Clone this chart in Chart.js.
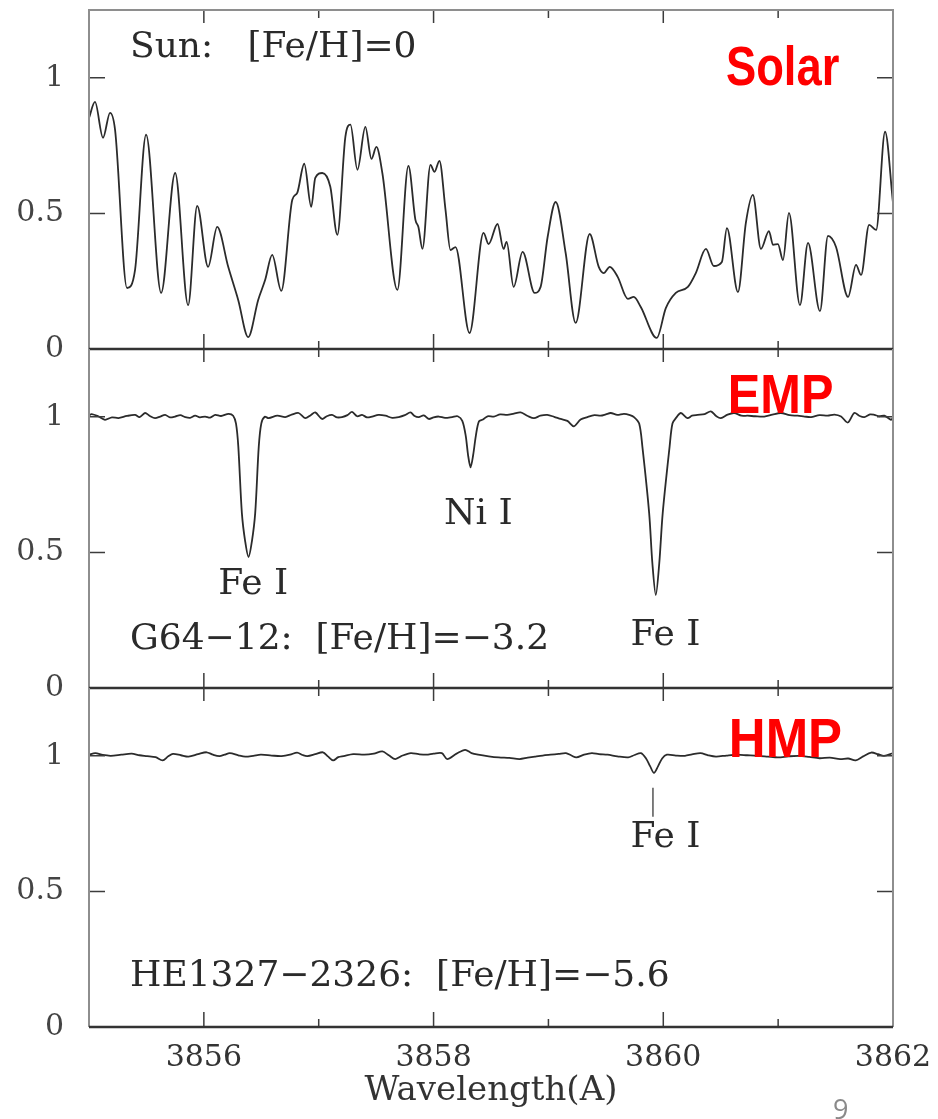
<!DOCTYPE html>
<html>
<head>
<meta charset="utf-8">
<title>Fe I lines at three metallicities</title>
<script src="https://cdn.jsdelivr.net/npm/chart.js@4.4.0/dist/chart.umd.min.js"></script>
<style>
    html, body { margin: 0; padding: 0; background: #fff; }
    #wrap { position: relative; width: 938px; height: 1119px; overflow: hidden; }
    #wrap canvas { position: absolute; left: 0; top: 0; }
    #pageNo { position: absolute; left: 833px; top: 1090px; font: 27px "Open Sans", sans-serif; color: #8a8a8a; }
</style>
</head>
<body>
<div id="wrap">
    <canvas id="solarChart" width="938" height="1119"></canvas>
    <canvas id="empChart" width="938" height="1119"></canvas>
    <canvas id="hmpChart" width="938" height="1119"></canvas>
    <div id="pageNo">9</div>
</div>
<script>
// Axis setup
const waveMin = 3855;
const waveMax = 3862;
const labelWave = [3856, 3858, 3860, 3862];
const minorWave = [3857, 3859, 3861];
const fluxTicks = [0, 0.5, 1];

// Sun: [wavelength, normalised flux]
const solarSpectrum = [
    [3855.000, 0.852], [3855.052, 0.911], [3855.122, 0.779], [3855.183, 0.871], [3855.227, 0.808],
    [3855.331, 0.225], [3855.401, 0.292], [3855.497, 0.790], [3855.628, 0.207], [3855.750, 0.649],
    [3855.863, 0.162], [3855.942, 0.528], [3856.037, 0.303], [3856.116, 0.450], [3856.212, 0.303],
    [3856.299, 0.181], [3856.386, 0.044], [3856.473, 0.181], [3856.534, 0.255], [3856.595, 0.347],
    [3856.674, 0.214], [3856.770, 0.550], [3856.813, 0.576], [3856.874, 0.683], [3856.935, 0.524],
    [3856.970, 0.631], [3857.031, 0.649], [3857.101, 0.598], [3857.162, 0.421], [3857.232, 0.782],
    [3857.276, 0.827], [3857.337, 0.661], [3857.406, 0.819], [3857.459, 0.701], [3857.502, 0.745],
    [3857.554, 0.649], [3857.685, 0.218], [3857.781, 0.675], [3857.842, 0.476], [3857.868, 0.450],
    [3857.903, 0.369], [3857.973, 0.679], [3858.008, 0.653], [3858.051, 0.694], [3858.104, 0.513],
    [3858.147, 0.365], [3858.191, 0.376], [3858.313, 0.059], [3858.435, 0.428], [3858.479, 0.387],
    [3858.557, 0.461], [3858.609, 0.369], [3858.636, 0.395], [3858.697, 0.229], [3858.775, 0.358],
    [3858.880, 0.207], [3858.932, 0.229], [3858.993, 0.413], [3859.063, 0.542], [3859.150, 0.354],
    [3859.237, 0.096], [3859.359, 0.424], [3859.438, 0.303], [3859.481, 0.280], [3859.534, 0.303],
    [3859.603, 0.266], [3859.691, 0.185], [3859.743, 0.192], [3859.804, 0.155], [3859.943, 0.041],
    [3860.022, 0.151], [3860.109, 0.207], [3860.214, 0.229], [3860.283, 0.280], [3860.371, 0.369],
    [3860.440, 0.306], [3860.510, 0.321], [3860.554, 0.446], [3860.650, 0.210], [3860.719, 0.465],
    [3860.780, 0.568], [3860.850, 0.369], [3860.920, 0.435], [3860.955, 0.384], [3860.998, 0.387],
    [3861.042, 0.328], [3861.094, 0.502], [3861.190, 0.162], [3861.260, 0.391], [3861.364, 0.140],
    [3861.434, 0.417], [3861.504, 0.376], [3861.609, 0.192], [3861.678, 0.310], [3861.722, 0.273],
    [3861.792, 0.458], [3861.853, 0.439], [3861.931, 0.801], [3862.000, 0.539]
];

// G64-12 (EMP)
const empSpectrum = [
    [3855.000, 1.005], [3855.023, 1.010], [3855.080, 1.002], [3855.139, 0.989], [3855.200, 0.998],
    [3855.256, 0.995], [3855.330, 1.003], [3855.401, 1.007], [3855.440, 0.999], [3855.488, 1.014],
    [3855.530, 1.003], [3855.575, 0.995], [3855.620, 1.001], [3855.663, 1.007], [3855.705, 0.998],
    [3855.750, 1.001], [3855.795, 1.006], [3855.837, 0.999], [3855.880, 0.996], [3855.924, 1.004],
    [3855.965, 0.998], [3856.011, 1.001], [3856.055, 0.997], [3856.099, 1.007], [3856.150, 1.003],
    [3856.215, 1.011], [3856.255, 1.004], [3856.280, 0.975], [3856.300, 0.890], [3856.331, 0.645],
    [3856.360, 0.540], [3856.389, 0.483], [3856.418, 0.540], [3856.447, 0.645], [3856.478, 0.890],
    [3856.500, 0.975], [3856.530, 1.000], [3856.564, 0.995], [3856.640, 1.004], [3856.709, 0.999],
    [3856.765, 1.008], [3856.825, 1.014], [3856.883, 0.995], [3856.930, 1.006], [3856.970, 1.016],
    [3857.029, 0.992], [3857.070, 1.002], [3857.116, 1.007], [3857.160, 0.998], [3857.203, 0.999],
    [3857.250, 1.006], [3857.290, 1.018], [3857.335, 1.002], [3857.377, 1.007], [3857.420, 0.998],
    [3857.465, 1.001], [3857.520, 1.007], [3857.581, 1.004], [3857.640, 0.996], [3857.697, 0.999],
    [3857.750, 1.006], [3857.799, 1.016], [3857.835, 1.003], [3857.871, 0.999], [3857.915, 1.005],
    [3857.958, 0.992], [3858.000, 0.998], [3858.045, 1.001], [3858.100, 0.996], [3858.162, 0.999],
    [3858.210, 1.002], [3858.250, 0.985], [3858.280, 0.930], [3858.300, 0.860], [3858.322, 0.814],
    [3858.345, 0.860], [3858.368, 0.930], [3858.395, 0.983], [3858.430, 0.990], [3858.470, 1.002],
    [3858.525, 1.001], [3858.580, 1.009], [3858.642, 1.007], [3858.700, 1.012], [3858.758, 1.016],
    [3858.820, 1.003], [3858.874, 0.995], [3858.930, 1.004], [3858.990, 1.007], [3859.050, 1.000],
    [3859.106, 0.992], [3859.165, 0.985], [3859.222, 0.965], [3859.280, 0.990], [3859.339, 0.999],
    [3859.400, 1.006], [3859.455, 1.004], [3859.500, 1.009], [3859.542, 1.014], [3859.600, 1.007],
    [3859.658, 1.011], [3859.710, 1.006], [3859.745, 0.999], [3859.790, 0.975], [3859.818, 0.890],
    [3859.877, 0.645], [3859.905, 0.460], [3859.935, 0.343], [3859.965, 0.460], [3859.995, 0.645],
    [3860.055, 0.890], [3860.080, 0.975], [3860.115, 0.998], [3860.153, 1.014], [3860.211, 0.995],
    [3860.250, 1.004], [3860.298, 1.007], [3860.360, 1.010], [3860.414, 1.020], [3860.460, 1.003],
    [3860.501, 0.995], [3860.560, 1.008], [3860.617, 1.014], [3860.680, 1.004], [3860.734, 1.004],
    [3860.800, 1.002], [3860.879, 1.001], [3860.950, 1.008], [3861.024, 1.014], [3861.100, 1.006],
    [3861.170, 1.004], [3861.230, 1.001], [3861.286, 0.999], [3861.360, 1.006], [3861.431, 1.004],
    [3861.490, 1.008], [3861.548, 1.001], [3861.606, 0.979], [3861.663, 1.014], [3861.710, 1.003],
    [3861.750, 0.999], [3861.800, 1.009], [3861.838, 1.007], [3861.880, 1.002], [3861.925, 1.004],
    [3861.983, 0.989], [3862.000, 0.996]
];

// HE1327-2326 (HMP)
const hmpSpectrum = [
    [3855.000, 1.004], [3855.055, 1.010], [3855.120, 1.003], [3855.190, 1.000], [3855.280, 1.004],
    [3855.371, 1.008], [3855.440, 1.002], [3855.506, 0.999], [3855.580, 0.995], [3855.641, 0.983],
    [3855.690, 0.998], [3855.731, 1.007], [3855.800, 1.002], [3855.866, 0.997], [3855.950, 1.006],
    [3856.024, 1.013], [3856.080, 1.004], [3856.136, 0.999], [3856.180, 1.004], [3856.226, 1.010],
    [3856.300, 1.002], [3856.361, 0.997], [3856.430, 1.000], [3856.496, 1.004], [3856.590, 1.001],
    [3856.677, 0.999], [3856.750, 1.004], [3856.812, 1.012], [3856.860, 1.003], [3856.901, 0.999],
    [3856.970, 1.006], [3857.037, 1.013], [3857.080, 0.998], [3857.126, 0.983], [3857.170, 0.995],
    [3857.217, 0.999], [3857.300, 1.006], [3857.397, 1.004], [3857.480, 1.008], [3857.554, 1.016],
    [3857.610, 1.002], [3857.667, 0.988], [3857.730, 1.001], [3857.802, 1.010], [3857.870, 1.006],
    [3857.937, 1.004], [3858.000, 1.008], [3858.072, 1.010], [3858.118, 0.988], [3858.200, 1.008],
    [3858.275, 1.022], [3858.330, 1.010], [3858.388, 1.004], [3858.480, 0.998], [3858.568, 0.994],
    [3858.660, 0.992], [3858.748, 0.988], [3858.820, 0.993], [3858.883, 0.997], [3858.950, 1.001],
    [3859.018, 1.004], [3859.090, 1.007], [3859.153, 1.010], [3859.200, 1.001], [3859.243, 0.994],
    [3859.310, 1.004], [3859.378, 1.010], [3859.440, 1.006], [3859.514, 1.004], [3859.600, 0.998],
    [3859.694, 0.994], [3859.750, 1.003], [3859.806, 1.010], [3859.850, 0.990], [3859.885, 0.962],
    [3859.919, 0.937], [3859.955, 0.962], [3859.990, 0.990], [3860.031, 1.004], [3860.110, 1.001],
    [3860.189, 1.000], [3860.250, 1.005], [3860.324, 1.010], [3860.390, 1.002], [3860.459, 0.997],
    [3860.550, 1.001], [3860.639, 1.004], [3860.730, 1.002], [3860.820, 1.000], [3860.910, 0.997],
    [3860.999, 0.994], [3861.090, 0.998], [3861.180, 1.000], [3861.270, 0.996], [3861.360, 0.991],
    [3861.450, 0.993], [3861.540, 0.988], [3861.610, 0.990], [3861.675, 0.983], [3861.740, 0.998],
    [3861.810, 1.012], [3861.870, 1.006], [3861.922, 1.000], [3862.000, 1.010]
];

// Fe I marker under the weak HMP line
const hmpMarker = [[3859.91, 0.882], [3859.91, 0.775]];

const serif = "'DejaVu Serif', 'Liberation Serif', serif";
const redFont = "bold 56px 'Liberation Sans', Arial, sans-serif";

// Text notes, placed in data units of each panel
const solarNotes = [
    { text: 'Sun:   [Fe/H]=0', wave: 3855.357, flux: 1.112, align: 'left' },
    { text: 'Solar', wave: 3860.545, flux: 0.974, red: true, squeeze: 0.81 }
];
const empNotes = [
    { text: 'Fe I', wave: 3856.43, flux: 0.380, align: 'center' },
    { text: 'Ni I', wave: 3858.39, flux: 0.638, align: 'center' },
    { text: 'Fe I', wave: 3860.02, flux: 0.192, align: 'center' },
    { text: 'G64\u221212:  [Fe/H]=\u22123.2', wave: 3855.357, flux: 0.177, align: 'left' },
    { text: 'EMP', wave: 3860.562, flux: 1.015, red: true, squeeze: 0.87 }
];
const hmpNotes = [
    { text: 'Fe I', wave: 3860.02, flux: 0.697, align: 'center' },
    { text: 'HE1327\u22122326:  [Fe/H]=\u22125.6', wave: 3855.357, flux: 0.185, align: 'left' },
    { text: 'HMP', wave: 3860.571, flux: 0.996, red: true, squeeze: 0.91 }
];

// Frame with inward ticks, like the original plot
const framePlugin = {
    id: 'frame',
    afterDatasetsDraw(chart, args, opts) {
        const { ctx, chartArea: a, scales: { x, y } } = chart;
        ctx.save();
        ctx.strokeStyle = '#3c3c3c';
        ctx.lineWidth = 1.5;
        ctx.beginPath();
        labelWave.forEach(w => {
            const px = x.getPixelForValue(w);
            ctx.moveTo(px, a.bottom); ctx.lineTo(px, a.bottom - 15);
            ctx.moveTo(px, a.top); ctx.lineTo(px, a.top + 13);
        });
        minorWave.forEach(w => {
            const px = x.getPixelForValue(w);
            ctx.moveTo(px, a.bottom); ctx.lineTo(px, a.bottom - 8);
            ctx.moveTo(px, a.top); ctx.lineTo(px, a.top + 8);
        });
        fluxTicks.forEach(v => {
            const py = y.getPixelForValue(v);
            ctx.moveTo(a.left, py); ctx.lineTo(a.left + 16, py);
            ctx.moveTo(a.right, py); ctx.lineTo(a.right - 16, py);
        });
        ctx.stroke();

        ctx.strokeStyle = '#8e8e8e';
        ctx.lineWidth = 2;
        ctx.beginPath();
        ctx.moveTo(a.left, a.bottom);
        ctx.lineTo(a.left, a.top);
        if (opts.topEdge) ctx.lineTo(a.right, a.top);
        else ctx.moveTo(a.right, a.top);
        ctx.lineTo(a.right, a.bottom);
        ctx.stroke();

        ctx.strokeStyle = '#333';
        ctx.lineWidth = 2.5;
        ctx.beginPath();
        ctx.moveTo(a.left, a.bottom);
        ctx.lineTo(a.right, a.bottom);
        ctx.stroke();
        ctx.restore();
    }
};

const makeNotes = (items) => ({
    id: 'notes',
    afterDatasetsDraw(chart) {
        const { ctx, scales: { x, y } } = chart;
        items.forEach(n => {
            const px = x.getPixelForValue(n.wave);
            const py = y.getPixelForValue(n.flux);
            ctx.save();
            if (n.red) {
                ctx.font = redFont;
                ctx.fillStyle = '#ff0000';
                ctx.textAlign = 'left';
                ctx.textBaseline = 'alphabetic';
                ctx.translate(px, py);
                ctx.scale(n.squeeze, 1);
                ctx.fillText(n.text, 0, 0);
            } else {
                ctx.font = '36px ' + serif;
                ctx.fillStyle = '#2a2a2a';
                ctx.textAlign = n.align;
                ctx.textBaseline = 'middle';
                ctx.fillText(n.text, px, py);
            }
            ctx.restore();
        });
    }
});

const toPoints = (spec) => spec.map(([w, f]) => ({ x: w, y: f }));

// solar: monotone keeps the peaks flat; metal-poor stars: light spline
function spectrumSet(spec, smooth) {
    const set = {
        data: toPoints(spec),
        borderColor: '#2b2b2b',
        borderWidth: 1.8,
        pointRadius: 0,
        fill: false
    };
    if (smooth === 'monotone') set.cubicInterpolationMode = 'monotone';
    else set.tension = 0.3;
    return set;
}

function panelConfig(datasets, notes, padTop, padBottom, isBottom) {
    const xScale = {
        type: 'linear',
        min: waveMin,
        max: waveMax,
        display: isBottom
    };
    if (isBottom) {
        Object.assign(xScale, {
            afterBuildTicks: s => { s.ticks = labelWave.map(v => ({ value: v })); },
            afterFit: s => { s.height = 92; s.paddingLeft = 0; s.paddingRight = 0; },
            grid: { display: false, drawTicks: false },
            border: { display: false },
            ticks: {
                font: { family: serif, size: 30 },
                color: '#333',
                padding: 13,
                maxRotation: 0,
                autoSkip: false,
                callback: v => String(v)
            },
            title: {
                display: true,
                text: 'Wavelength(A)',
                font: { family: serif, size: 34 },
                color: '#333',
                padding: { top: 0, bottom: 7 }
            }
        });
    }
    return {
        type: 'line',
        data: { datasets },
        options: {
            responsive: false,
            animation: false,
            events: [],
            layout: { padding: { top: padTop, bottom: padBottom, left: 0, right: 45 } },
            plugins: {
                legend: { display: false },
                tooltip: { enabled: false },
                frame: { topEdge: padTop < 20 }
            },
            scales: {
                x: xScale,
                y: {
                    min: 0,
                    max: 1.25,
                    afterBuildTicks: s => { s.ticks = fluxTicks.map(v => ({ value: v })); },
                    afterFit: s => { s.width = 89; s.paddingTop = 0; s.paddingBottom = 0; },
                    grid: { display: false, drawTicks: false },
                    border: { display: false },
                    ticks: {
                        font: { family: serif, size: 30 },
                        color: '#444',
                        padding: 25,
                        callback: v => String(v)
                    }
                }
            }
        },
        plugins: [framePlugin, makeNotes(notes)]
    };
}

const solarChart = new Chart(
    document.getElementById('solarChart'),
    panelConfig([spectrumSet(solarSpectrum, 'monotone')], solarNotes, 10, 770, false)
);

const empChart = new Chart(
    document.getElementById('empChart'),
    panelConfig([spectrumSet(empSpectrum)], empNotes, 349, 431, false)
);

const markerSet = {
    data: toPoints(hmpMarker),
    borderColor: '#555',
    borderWidth: 1.5,
    pointRadius: 0,
    fill: false
};

const hmpChart = new Chart(
    document.getElementById('hmpChart'),
    panelConfig([spectrumSet(hmpSpectrum), markerSet], hmpNotes, 688, 0, true)
);
</script>
</body>
</html>
